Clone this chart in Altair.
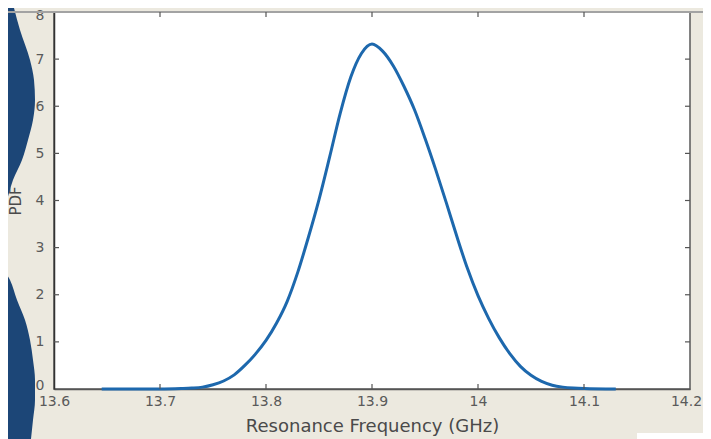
import altair as alt
import pandas as pd

# --- curve ---
freq = [13.645, 13.68, 13.70, 13.72, 13.73, 13.74, 13.75, 13.76, 13.77, 13.78,
        13.79, 13.80, 13.81, 13.82, 13.83, 13.84, 13.85, 13.86, 13.87, 13.88,
        13.89, 13.90, 13.91, 13.92, 13.93, 13.94, 13.95, 13.96, 13.97, 13.98,
        13.99, 14.00, 14.01, 14.02, 14.03, 14.04, 14.05, 14.06, 14.07, 14.08,
        14.09, 14.10, 14.13]
pdf = [0.0, 0.0, 0.0, 0.01, 0.02, 0.04, 0.09, 0.17, 0.30, 0.50,
       0.74, 1.03, 1.40, 1.86, 2.48, 3.22, 4.02, 4.92, 5.85, 6.62,
       7.12, 7.32, 7.17, 6.86, 6.43, 5.93, 5.32, 4.66, 3.96, 3.24,
       2.56, 1.98, 1.50, 1.09, 0.75, 0.48, 0.29, 0.16, 0.08, 0.04,
       0.02, 0.01, 0.0]

x_ticks = [13.6, 13.7, 13.8, 13.9, 14.0, 14.1, 14.2]
y_ticks = [0, 1, 2, 3, 4, 5, 6, 7, 8]
x_inner = [13.7, 13.8, 13.9, 14.0, 14.1]
y_inner = [1, 2, 3, 4, 5, 6, 7]

# --- slide decoration (image pixel coordinates) ---
wave_y = [0, 30, 60, 80, 100, 120, 140, 160, 180, 200, 215, 240, 263, 280, 300, 320,
          340, 360, 380, 400, 420, 439]
wave_x = [12, 20, 30, 34, 35, 33, 28, 22, 13, 7, 3, -3, 0, 10, 17, 25,
          30, 33, 35, 35, 33, 31]

W, H = 636, 377
PX_X = alt.Scale(domain=[0, 711], range=[-54, 657])
PX_Y = alt.Scale(domain=[0, 439], range=[-12, 427])

wave_df = pd.DataFrame({"wx": wave_x, "wy": wave_y})
wave = alt.Chart(wave_df).mark_area(orient="horizontal", interpolate="monotone",
                                    color="#1C4677").encode(
    y=alt.Y("wy:Q", scale=PX_Y, axis=None),
    x=alt.X("wx:Q", scale=PX_X, axis=None),
    x2=alt.datum(-30),
)
topline = alt.Chart(pd.DataFrame({"a": [0], "b": [711], "y": [12]})).mark_rule(
    color="#A3A3A3", strokeWidth=2).encode(
    x=alt.X("a:Q", scale=PX_X, axis=None), x2="b:Q",
    y=alt.Y("y:Q", scale=PX_Y, axis=None),
)
patch = alt.Chart(pd.DataFrame({"a": [637], "b": [711], "c": [433], "d": [439]})).mark_rect(
    color="white").encode(
    x=alt.X("a:Q", scale=PX_X, axis=None), x2="b:Q",
    y=alt.Y("c:Q", scale=PX_Y, axis=None), y2="d:Q",
)
deco = alt.layer(wave, topline, patch)

XS = alt.Scale(domain=[13.6, 14.2], nice=False, zero=False)
YS = alt.Scale(domain=[0, 8], nice=False)

curve = alt.Chart(pd.DataFrame({"f": freq, "p": pdf})).mark_line(
    color="#1D68AD", strokeWidth=3, interpolate="monotone").encode(
    x=alt.X("f:Q", scale=XS, title="Resonance Frequency (GHz)",
            axis=alt.Axis(values=x_ticks, format=".3~r", ticks=False, grid=False,
                          labelFlush=False,
                          labelOffset={"expr": "datum.value > 14.15 ? -4 : 0"},
                          labelPadding=5, titlePadding=9, domainColor="#555555",
                          domainWidth=1.5, titleFontSize=18)),
    y=alt.Y("p:Q", scale=YS, title="PDF",
            axis=alt.Axis(values=y_ticks, ticks=False, grid=False, labelPadding=10,
                          labelFlush=False,
                          labelOffset={"expr": "datum.value > 7.5 ? 3 : (datum.value < 0.5 ? -4 : 0)"},
                          titlePadding=12, domainColor="#333333", domainWidth=1.5,
                          titleFontSize=15)),
)

xt = pd.DataFrame({"t": x_inner})
yt = pd.DataFrame({"t": y_inner})
tick_style = dict(color="#555555", strokeWidth=1.2)
xb = alt.Chart(xt).mark_rule(**tick_style).encode(
    x=alt.X("t:Q", scale=XS), y=alt.value(H), y2=alt.value(H - 5))
xtop = alt.Chart(xt).mark_rule(**tick_style).encode(
    x=alt.X("t:Q", scale=XS), y=alt.value(0), y2=alt.value(5))
yl = alt.Chart(yt).mark_rule(**tick_style).encode(
    y=alt.Y("t:Q", scale=YS), x=alt.value(0), x2=alt.value(5))
yr = alt.Chart(yt).mark_rule(**tick_style).encode(
    y=alt.Y("t:Q", scale=YS), x=alt.value(W), x2=alt.value(W - 5))

main = alt.layer(curve, xb, xtop, yl, yr)

chart = alt.layer(deco, main).resolve_scale(
    x="independent", y="independent"
).properties(
    width=W, height=H,
    autosize=alt.AutoSizeParams(type="none"),
    padding={"left": 46, "top": 4, "right": 13, "bottom": 50},
    background="#ECE9DF",
).configure_view(
    fill="white", stroke="#5a5a5a", strokeWidth=1.5,
).configure_axis(
    labelFont="DejaVu Sans", labelFontSize=14, labelColor="#5a5a5a",
    titleFont="DejaVu Sans", titleColor="#4a4a4a",
    titleFontWeight="normal",
)

chart.save("out.html", embed_options={"renderer": "svg", "actions": False})
